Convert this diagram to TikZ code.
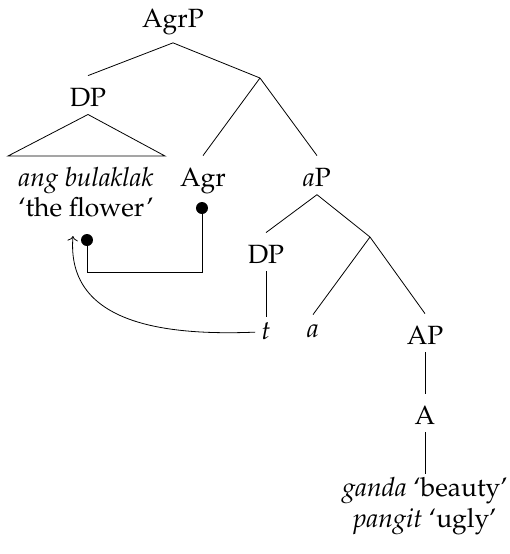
\documentclass[tikz,border=0pt]{standalone}
\usepackage[T1]{fontenc}
\usepackage{mathpazo}
\usepackage{tikz}
\usetikzlibrary{arrows.meta}

\begin{document}
\begin{tikzpicture}[x=0.5pt,y=-0.5pt,
            every node/.style={font=\fontsize{13.2}{15.5}\selectfont,inner xsep=3pt,inner ysep=4pt,text height=11pt},
            lf/.style={text height=7pt},
            dot/.style={circle,fill,inner sep=0pt,minimum size=6pt,text height=0pt,text depth=0pt}]
            \useasboundingbox (0,0) rectangle (510,554);
            \coordinate (b1) at (260,78);
            \coordinate (b2) at (370,237);
            \coordinate (tl) at (8,156);
            \coordinate (tr) at (165,156);
            \coordinate (mv) at (73,236);
            
            \node (agrp) at (173,27) [anchor=base] {AgrP};
            \node (dpa) at (88,106) [anchor=base] {DP};
            \node (bul) at (86,186) [anchor=base] {\textit{ang bulaklak}};
            \node (flw) at (86,216) [anchor=base] {`the flower'};
            \node (agr) at (203,186) [anchor=base] {Agr};
            \node (lap) at (317,186) [anchor=base] {\textit{a}P};
            \node (dpb) at (266,263) [anchor=base] {DP};
            \node (tt) at (266,339) [anchor=base,lf] {\textit{t}};
            \node (la) at (313,337) [anchor=base,lf] {\textit{a}};
            \node (bap) at (425,344) [anchor=base] {AP};
            \node (adj) at (425,424) [anchor=base] {A};
            \node (gnd) at (425,496) [anchor=base,lf] {\textit{ganda} `beauty'};
            \node (pgt) at (425,527) [anchor=base] {\textit{pangit} `ugly'};
            
            \draw (agrp.south) -- (dpa.north);
            \draw (agrp.south) -- (b1);
            \draw (dpa.south) -- (tl) -- (tr) -- cycle;
            \draw (b1) -- (agr.north);
            \draw (b1) -- (lap.north);
            \draw (lap.south) -- (dpb.north);
            \draw (lap.south) -- (b2);
            \draw (dpb.south) -- (tt.north);
            \draw (b2) -- (la.north);
            \draw (b2) -- (bap.north);
            \draw (bap.south) -- (adj.north);
            \draw (adj.south) -- (gnd.north);
            
            \node[dot] (fdot) at (87,240) {};
            \node[dot] (adot) at (202,208) {};
            \draw (fdot.center) -- ++(0,32) -| (adot.center);
            \draw[->] (tt.west) .. controls (160,336) and (66,322) .. (mv);
            
            \end{tikzpicture}
\end{document}
